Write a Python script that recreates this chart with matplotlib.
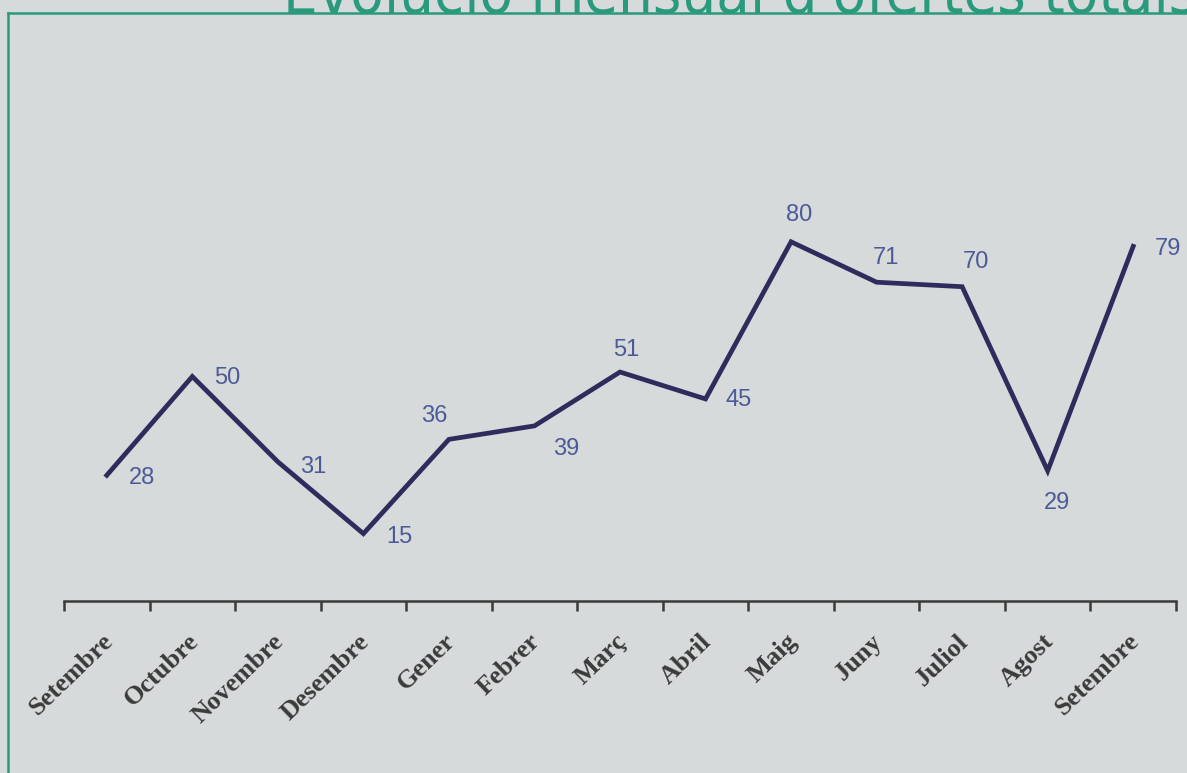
import matplotlib
matplotlib.use("Agg")
import matplotlib.pyplot as plt
from matplotlib.lines import Line2D
from matplotlib.transforms import ScaledTranslation

months = ["Setembre", "Octubre", "Novembre", "Desembre", "Gener", "Febrer",
          "Març", "Abril", "Maig", "Juny", "Juliol", "Agost", "Setembre"]
ofertes = [28, 50, 31, 15, 36, 39, 51, 45, 80, 71, 70, 29, 79]
title = "Evolució mensual d'ofertes totals"

# label offsets in pixels (dx right, dy up)
label_offsets = [(35, -3), (35, -1), (35, -5), (36, -3), (-15, 23), (32, -23),
                 (6, 22), (33, -1), (8, 27), (9, 24), (14, 25), (9, -32), (35, -3)]

W, H = 1187, 773
DPI = 100
bg = "#d6dada"
green = "#2a9a7c"
navy = "#2f2b5c"
lblcol = "#4c5a98"

fig = plt.figure(figsize=(W / DPI, H / DPI), dpi=DPI, facecolor=bg)
ax_left, ax_right = 64, 1176
ax_bottom, ax_top = 601, 152
ax = fig.add_axes([ax_left / W, 1 - ax_bottom / H,
                   (ax_right - ax_left) / W, (ax_bottom - ax_top) / H])
ax.set_facecolor(bg)

x = list(range(len(ofertes)))
ax.plot(x, ofertes, color=navy, lw=3.4, solid_joinstyle="miter", clip_on=False)

for xi, v, (dx, dy) in zip(x, ofertes, label_offsets):
    ax.annotate(str(v), (xi, v), xytext=(dx * 72 / DPI, dy * 72 / DPI),
                textcoords="offset points", ha="center", va="center",
                fontsize=17, color=lblcol, family="Liberation Sans")

ax.set_xlim(-0.5, len(ofertes) - 0.5)
ax.set_ylim(0, 100)
for s in ["top", "right", "left"]:
    ax.spines[s].set_visible(False)
ax.spines["bottom"].set_color("#3a3a3a")
ax.spines["bottom"].set_linewidth(1.8)
ax.set_yticks([])

ax.set_xticks(x)
ax.set_xticks([i - 0.5 for i in range(len(ofertes) + 1)], minor=True)
ax.tick_params(axis="x", which="major", length=0, pad=30)
ax.tick_params(axis="x", which="minor", length=7, width=1.8, color="#3a3a3a",
               direction="out")
ax.set_xticklabels(months, rotation=44, ha="right", va="baseline",
                   rotation_mode="anchor", fontsize=19, fontweight="bold",
                   family="Liberation Serif", color="#3a3a3a")
shift = ScaledTranslation(7 / DPI, 0, fig.dpi_scale_trans)
for lab in ax.get_xticklabels():
    lab.set_transform(lab.get_transform() + shift)

# Title (cut at top edge)
fig.text(283 / W, 1 - 13 / H, title, ha="left", va="baseline",
         fontsize=44, color=green,
         family=["DejaVu Sans Condensed", "Liberation Sans Narrow", "DejaVu Sans"],
         stretch="condensed")

# green frame
fig.add_artist(Line2D([8 / W, 8 / W], [0, 1 - 13 / H], color=green, lw=1.8,
                      transform=fig.transFigure))
fig.add_artist(Line2D([8 / W, 1], [1 - 13 / H, 1 - 13 / H], color=green, lw=1.8,
                      transform=fig.transFigure))

fig.savefig("out.png", dpi=DPI, facecolor=bg)
